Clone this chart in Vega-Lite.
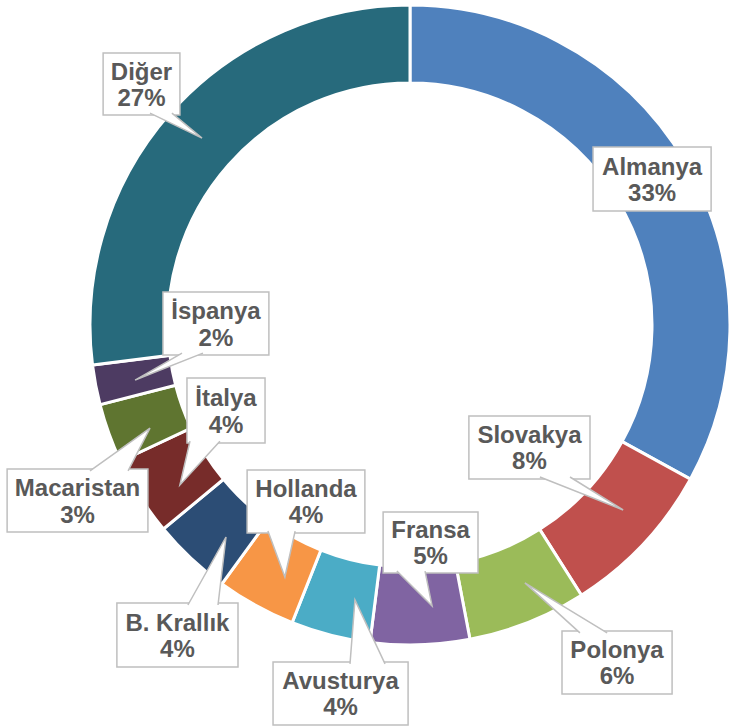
{
  "$schema": "https://vega.github.io/schema/vega-lite/v6.json",
  "width": 638,
  "height": 640,
  "autosize": {"type": "none"},
  "padding": {"left": 91, "top": 5, "right": 0, "bottom": 81},
  "background": "white",
  "config": {"view": {"stroke": null}},
  "datasets": {
    "shares": [
      {"name": "Almanya", "value": 33, "i": 1, "x1": 0.572, "x2": 0.941, "y1": 0.556, "y2": 0.356},
      {"name": "Slovakya", "value": 8, "i": 2, "x1": 0.184, "x2": 0.5625, "y1": -0.284, "y2": -0.481},
      {"name": "Polonya", "value": 6, "i": 3, "x1": 0.475, "x2": 0.819, "y1": -0.956, "y2": -1.153},
      {"name": "Fransa", "value": 5, "i": 4, "x1": -0.084, "x2": 0.2125, "y1": -0.584, "y2": -0.775},
      {"name": "Avusturya", "value": 4, "i": 5, "x1": -0.428, "x2": -0.006, "y1": -1.053, "y2": -1.25},
      {"name": "Hollanda", "value": 4, "i": 6, "x1": -0.509, "x2": -0.141, "y1": -0.453, "y2": -0.65},
      {"name": "B. Krallık", "value": 4, "i": 7, "x1": -0.916, "x2": -0.5375, "y1": -0.869, "y2": -1.069},
      {"name": "İtalya", "value": 4, "i": 8, "x1": -0.697, "x2": -0.453, "y1": -0.166, "y2": -0.369},
      {"name": "Macaristan", "value": 3, "i": 9, "x1": -1.259, "x2": -0.819, "y1": -0.45, "y2": -0.647},
      {"name": "İspanya", "value": 2, "i": 10, "x1": -0.772, "x2": -0.441, "y1": 0.103, "y2": -0.094},
      {"name": "Diğer", "value": 27, "i": 11, "x1": -0.959, "x2": -0.719, "y1": 0.85, "y2": 0.656}
    ],
    "pointers": [
      {"name": "Diğer", "k": 1, "px": -0.8125, "py": 0.662},
      {"name": "Diğer", "k": 2, "px": -0.65, "py": 0.584},
      {"name": "Diğer", "k": 3, "px": -0.744, "py": 0.662},
      {"name": "Slovakya", "k": 1, "px": 0.406, "py": -0.475},
      {"name": "Slovakya", "k": 2, "px": 0.666, "py": -0.578},
      {"name": "Slovakya", "k": 3, "px": 0.5, "py": -0.475},
      {"name": "İspanya", "k": 1, "px": -0.7125, "py": -0.088},
      {"name": "İspanya", "k": 2, "px": -0.859, "py": -0.172},
      {"name": "İspanya", "k": 3, "px": -0.647, "py": -0.088},
      {"name": "İtalya", "k": 1, "px": -0.6875, "py": -0.363},
      {"name": "İtalya", "k": 2, "px": -0.719, "py": -0.5},
      {"name": "İtalya", "k": 3, "px": -0.594, "py": -0.363},
      {"name": "Macaristan", "k": 1, "px": -1.0, "py": -0.456},
      {"name": "Macaristan", "k": 2, "px": -0.8125, "py": -0.322},
      {"name": "Macaristan", "k": 3, "px": -0.881, "py": -0.456},
      {"name": "Hollanda", "k": 1, "px": -0.444, "py": -0.644},
      {"name": "Hollanda", "k": 2, "px": -0.391, "py": -0.7875},
      {"name": "Hollanda", "k": 3, "px": -0.359, "py": -0.644},
      {"name": "B. Krallık", "k": 1, "px": -0.694, "py": -0.875},
      {"name": "B. Krallık", "k": 2, "px": -0.575, "py": -0.6625},
      {"name": "B. Krallık", "k": 3, "px": -0.6, "py": -0.875},
      {"name": "Avusturya", "k": 1, "px": -0.1875, "py": -1.059},
      {"name": "Avusturya", "k": 2, "px": -0.172, "py": -0.859},
      {"name": "Avusturya", "k": 3, "px": -0.078, "py": -1.059},
      {"name": "Fransa", "k": 1, "px": -0.041, "py": -0.769},
      {"name": "Fransa", "k": 2, "px": 0.069, "py": -0.878},
      {"name": "Fransa", "k": 3, "px": 0.047, "py": -0.769},
      {"name": "Polonya", "k": 1, "px": 0.531, "py": -0.962},
      {"name": "Polonya", "k": 2, "px": 0.359, "py": -0.806},
      {"name": "Polonya", "k": 3, "px": 0.616, "py": -0.962}
    ]
  },
  "layer": [
    {
      "data": {"name": "shares"},
      "mark": {"type": "arc", "outerRadius": 320, "innerRadius": 242, "stroke": "white", "strokeWidth": 3},
      "encoding": {
        "theta": {"field": "value", "type": "quantitative", "stack": true},
        "order": {"field": "i", "type": "quantitative"},
        "color": {
          "field": "name",
          "type": "nominal",
          "scale": {
            "domain": ["Almanya", "Slovakya", "Polonya", "Fransa", "Avusturya", "Hollanda", "B. Krallık", "İtalya", "Macaristan", "İspanya", "Diğer"],
            "range": ["#4F81BD", "#C0504D", "#9BBB59", "#8064A2", "#4BACC6", "#F79646", "#2C4D75", "#772C2A", "#5F7530", "#4D3B62", "#276A7C"]
          },
          "legend": null
        }
      }
    },
    {
      "data": {"name": "shares"},
      "mark": {"type": "rect", "fill": "white", "stroke": "#BFBFBF", "strokeWidth": 1.5},
      "encoding": {
        "x": {"field": "x1", "type": "quantitative", "scale": {"domain": [-0.996875, 0.996875], "nice": false, "zero": false}, "axis": null},
        "x2": {"field": "x2"},
        "y": {"field": "y1", "type": "quantitative", "scale": {"domain": [-1, 1], "nice": false, "zero": false}, "axis": null},
        "y2": {"field": "y2"}
      }
    },
    {
      "data": {"name": "pointers"},
      "mark": {"type": "line", "fill": "white", "stroke": null, "strokeWidth": 0},
      "encoding": {
        "x": {"field": "px", "type": "quantitative", "scale": {"domain": [-0.996875, 0.996875], "nice": false, "zero": false}, "axis": null},
        "y": {"field": "py", "type": "quantitative", "scale": {"domain": [-1, 1], "nice": false, "zero": false}, "axis": null},
        "order": {"field": "k", "type": "quantitative"},
        "detail": {"field": "name", "type": "nominal"}
      }
    },
    {
      "data": {"name": "pointers"},
      "mark": {"type": "line", "stroke": "#BFBFBF", "strokeWidth": 1.5},
      "encoding": {
        "x": {"field": "px", "type": "quantitative", "scale": {"domain": [-0.996875, 0.996875], "nice": false, "zero": false}, "axis": null},
        "y": {"field": "py", "type": "quantitative", "scale": {"domain": [-1, 1], "nice": false, "zero": false}, "axis": null},
        "order": {"field": "k", "type": "quantitative"},
        "detail": {"field": "name", "type": "nominal"}
      }
    },
    {
      "data": {"name": "shares"},
      "transform": [
        {"calculate": "(datum.x1 + datum.x2) / 2", "as": "cx"},
        {"calculate": "(datum.y1 + datum.y2) / 2", "as": "cy"},
        {"calculate": "datum.name + '\\n' + datum.value + '%'", "as": "label"}
      ],
      "mark": {"type": "text", "font": "Liberation Sans", "fontWeight": "bold", "fontSize": 24, "lineHeight": 26.5, "lineBreak": "\n", "align": "center", "baseline": "alphabetic", "dy": -4.5, "fill": "#595959"},
      "encoding": {
        "x": {"field": "cx", "type": "quantitative", "scale": {"domain": [-0.996875, 0.996875], "nice": false, "zero": false}, "axis": null},
        "y": {"field": "cy", "type": "quantitative", "scale": {"domain": [-1, 1], "nice": false, "zero": false}, "axis": null},
        "text": {"field": "label", "type": "nominal"}
      }
    }
  ]
}
